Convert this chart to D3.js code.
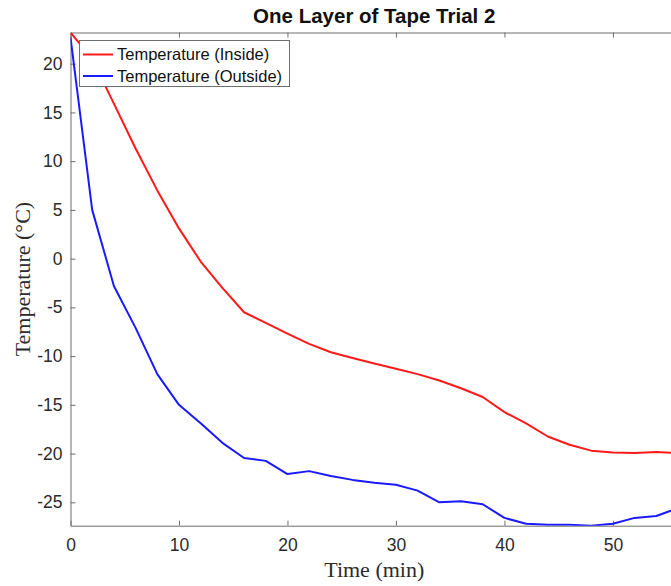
<!DOCTYPE html>
<html>
<head>
<meta charset="utf-8">
<script src="https://cdn.jsdelivr.net/npm/d3@7"></script>
<style>
  body { margin: 0; background: #fff; overflow: hidden; }
  svg { display: block; }
</style>
</head>
<body>
<div id="chart"></div>
<script>
var width = 671,
    height = 586;

// time in minutes, readings every 2 min
var times = [0, 2, 4, 6, 8, 10, 12, 14, 16, 18, 20, 22, 24, 26, 28,
             30, 32, 34, 36, 38, 40, 42, 44, 46, 48, 50, 52, 54, 56];
var tempInside = [23.2, 20.5, 15.9, 11.3, 7.0, 3.1, -0.3, -3.0, -5.5, -6.6, -7.7, -8.75, -9.6, -10.2, -10.75,
                  -11.3, -11.85, -12.5, -13.3, -14.2, -15.75, -16.9, -18.25, -19.1, -19.7, -19.9, -19.95, -19.85, -19.95];
var tempOutside = [22.7, 5.0, -2.8, -7.1, -11.85, -15.0, -16.9, -18.9, -20.45, -20.75, -22.1, -21.8, -22.3, -22.7, -23.0,
                   -23.2, -23.8, -25.0, -24.9, -25.2, -26.6, -27.2, -27.3, -27.3, -27.4, -27.2, -26.6, -26.4, -25.6];
var xTicks = [0, 10, 20, 30, 40, 50];
var yTicks = [20, 15, 10, 5, 0, -5, -10, -15, -20, -25];
var seriesNames = ["Temperature (Inside)", "Temperature (Outside)"];
var seriesColors = ["#ff1a1a", "#1a1aff"];

// plot box (right edge falls just outside the window, as in the reference)
var plotLeft = 70.5, plotRight = 678, plotTop = 32.5, plotBottom = 525.7;
var axisColor = "#6e6e6e", textColor = "#2b2b2b";

var svg = d3.select("#chart")
    .append("svg")
    .attr("width", width)
    .attr("height", height);

var x = d3.scaleLinear().domain([0, 56]).range([plotLeft, plotRight]);
var y = d3.scaleLinear().domain([-27.4, 23.2]).range([plotBottom, plotTop]);

svg.append("defs").append("clipPath").attr("id", "plot")
  .append("rect")
    .attr("x", plotLeft).attr("y", plotTop)
    .attr("width", plotRight - plotLeft).attr("height", plotBottom - plotTop);

// plain hyphen minus like matlab
var fmt = function(d) { return String(d); };

// axes (MATLAB style box with inward ticks)
function styleAxis(g) {
    g.select(".domain").attr("stroke", axisColor);
    g.selectAll(".tick line").attr("stroke", axisColor);
    g.selectAll(".tick text")
        .attr("fill", textColor)
        .style("font-family", "'Liberation Sans', Arial, sans-serif")
        .style("font-size", "17.5px");
}

svg.append("g")
    .attr("transform", "translate(0," + plotBottom + ")")
    .call(d3.axisBottom(x).tickValues(xTicks).tickFormat(fmt).tickSizeInner(-5).tickSizeOuter(0).tickPadding(13))
    .call(styleAxis);

svg.append("g")
    .attr("transform", "translate(" + plotLeft + ",0)")
    .call(d3.axisLeft(y).tickValues(yTicks).tickFormat(fmt).tickSizeInner(-5).tickSizeOuter(0).tickPadding(8))
    .call(styleAxis);

svg.append("g")
    .attr("transform", "translate(0," + plotTop + ")")
    .call(d3.axisTop(x).tickValues(xTicks).tickSizeInner(-5).tickSizeOuter(0).tickFormat(""))
    .call(styleAxis);

svg.append("g")
    .attr("transform", "translate(" + plotRight + ",0)")
    .call(d3.axisRight(y).tickValues(yTicks).tickSizeInner(-5).tickSizeOuter(0).tickFormat(""))
    .call(styleAxis);

// lines
var line = d3.line()
    .x(function(d) { return x(d[0]); })
    .y(function(d) { return y(d[1]); });

var seriesData = [tempInside, tempOutside];
svg.append("g").attr("clip-path", "url(#plot)")
  .selectAll("path")
    .data(seriesData)
  .enter().append("path")
    .attr("fill", "none")
    .attr("stroke", function(d, i) { return seriesColors[i]; })
    .attr("stroke-width", 2)
    .attr("stroke-linejoin", "round")
    .attr("d", function(d) { return line(d3.zip(times, d)); });

// title and labels
svg.append("text")
    .attr("x", (plotLeft + plotRight) / 2)
    .attr("y", 23)
    .attr("text-anchor", "middle")
    .style("font-family", "'Liberation Sans', Arial, sans-serif")
    .style("font-size", "20.5px")
    .style("font-weight", "bold")
    .attr("fill", "#111")
    .text("One Layer of Tape Trial 2");

svg.append("text")
    .attr("x", (plotLeft + plotRight) / 2)
    .attr("y", 577)
    .attr("text-anchor", "middle")
    .style("font-family", "'Liberation Serif', 'Times New Roman', serif")
    .style("font-size", "22px")
    .attr("fill", textColor)
    .text("Time (min)");

svg.append("text")
    .attr("transform", "translate(30," + ((plotTop + plotBottom) / 2) + ") rotate(-90)")
    .attr("text-anchor", "middle")
    .style("font-family", "'Liberation Serif', 'Times New Roman', serif")
    .style("font-size", "22px")
    .attr("fill", textColor)
    .text("Temperature (\u00B0C)");

// legend
var legend = svg.append("g");
legend.append("rect")
    .attr("x", 79.5).attr("y", 40.5)
    .attr("width", 210).attr("height", 46)
    .attr("fill", "#fff")
    .attr("stroke", axisColor);

var item = legend.selectAll("g.item")
    .data(seriesNames)
  .enter().append("g")
    .attr("class", "item")
    .attr("transform", function(d, i) { return "translate(0," + (54.5 + i * 21.5) + ")"; });

item.append("line")
    .attr("x1", 83).attr("x2", 113)
    .attr("stroke", function(d, i) { return seriesColors[i]; })
    .attr("stroke-width", 2);

item.append("text")
    .attr("x", 117)
    .attr("dy", "0.35em")
    .style("font-family", "'Liberation Sans', Arial, sans-serif")
    .style("font-size", "16.5px")
    .attr("fill", "#111")
    .text(function(d) { return d; });
</script>
</body>
</html>
